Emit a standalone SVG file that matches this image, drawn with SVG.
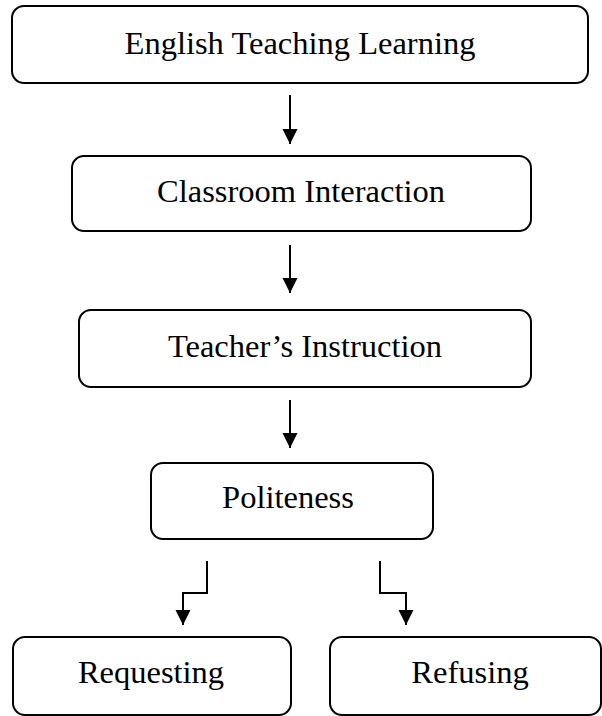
<svg xmlns="http://www.w3.org/2000/svg" width="602" height="716" viewBox="0 0 602 716">
<style>
.box{fill:#fff;stroke:#000;stroke-width:2}
.lbl{font-family:"Liberation Serif","Times New Roman",serif;font-size:32.5px;fill:#000;text-anchor:middle}
.con{fill:none;stroke:#000;stroke-width:2}
</style>
<defs>
<marker id="ah" markerUnits="userSpaceOnUse" markerWidth="16" markerHeight="16" refX="15" refY="7.5" orient="auto">
<path d="M0,0 L15,7.5 L0,15 z" fill="#000"/>
</marker>
</defs>
<rect width="602" height="716" fill="#fff"/>
<g id="n1"><rect class="box" x="12" y="6" width="576" height="77" rx="12"/><text class="lbl" x="300" y="54">English Teaching Learning</text></g>
<g id="n2"><rect class="box" x="72" y="156" width="459" height="75" rx="12"/><text class="lbl" x="301" y="202">Classroom Interaction</text></g>
<g id="n3"><rect class="box" x="79" y="310" width="452" height="77" rx="12"/><text class="lbl" x="305" y="357">Teacher’s Instruction</text></g>
<g id="n4"><rect class="box" x="151" y="463" width="282" height="76" rx="12"/><text class="lbl" x="288" y="508">Politeness</text></g>
<g id="n5"><rect class="box" x="13" y="637" width="278" height="78" rx="12"/><text class="lbl" x="151" y="683">Requesting</text></g>
<g id="n6"><rect class="box" x="330" y="637" width="271" height="78" rx="12"/><text class="lbl" x="470" y="683">Refusing</text></g>
<g id="connectors">
<path class="con" d="M290,95 V144" marker-end="url(#ah)"/>
<path class="con" d="M290,245 V293" marker-end="url(#ah)"/>
<path class="con" d="M290,400 V448" marker-end="url(#ah)"/>
<path class="con" d="M207,561 V593 H183 V625" marker-end="url(#ah)"/>
<path class="con" d="M380,561 V593 H406 V625" marker-end="url(#ah)"/>
</g>
</svg>
